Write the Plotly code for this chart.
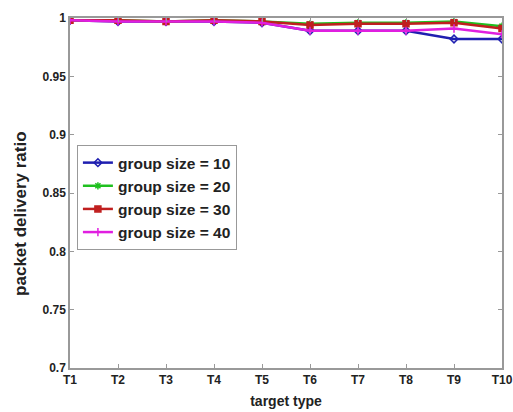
import plotly.graph_objects as go

categories = ["T1", "T2", "T3", "T4", "T5", "T6", "T7", "T8", "T9", "T10"]
g10 = [0.998, 0.997, 0.997, 0.997, 0.996, 0.989, 0.989, 0.989, 0.982, 0.982]
g20 = [0.998, 0.998, 0.997, 0.998, 0.997, 0.995, 0.996, 0.996, 0.997, 0.993]
g30 = [0.998, 0.998, 0.997, 0.998, 0.997, 0.994, 0.995, 0.995, 0.996, 0.991]
g40 = [0.998, 0.997, 0.997, 0.997, 0.996, 0.989, 0.989, 0.989, 0.991, 0.986]
names = ["group size = 10", "group size = 20", "group size = 30", "group size = 40"]
colors = ["#1f1fb0", "#1fc01f", "#c01f1f", "#e01fe0"]
symbols = ["diamond-open", "asterisk-open", "square", "cross-thin-open"]

xs = list(range(1, 11))
fig = go.Figure()
for i, (vals, nm, col, sym) in enumerate(zip([g10, g20, g30, g40], names, colors, symbols)):
    fig.add_trace(go.Scatter(
        x=xs, y=vals, name=nm, mode="lines+markers", legendgroup=f"g{i}",
        line=dict(color=col, width=2.5),
        marker=dict(symbol=sym, size=6, color=col, line=dict(color=col, width=1.5)),
    ))

fam = "Liberation Sans, Arial, sans-serif"
font = dict(family=fam, size=12, color="#222", weight="bold")
fig.update_layout(
    width=513, height=412,
    margin=dict(l=70, r=11, t=18, b=44),
    paper_bgcolor="white", plot_bgcolor="white",
    font=font,
    showlegend=True,
    legend=dict(x=0.016, y=0.637, xanchor="left", yanchor="top",
                bordercolor="#999", borderwidth=1, bgcolor="white",
                font=dict(size=15.5, family=fam, color="#222", weight="bold"),
                tracegroupgap=0),
    xaxis=dict(
        range=[1, 10], tickvals=xs, ticktext=categories, automargin=False,
        showgrid=False, zeroline=False,
        showline=True, linecolor="#999", linewidth=1.5, mirror="ticks",
        ticks="inside", ticklen=4, tickcolor="#999",
        title=dict(text="target type", standoff=10, font=dict(size=14, family=fam, color="#222", weight="bold")),
    ),
    yaxis=dict(
        range=[0.7, 1.0], tickvals=[0.7, 0.75, 0.8, 0.85, 0.9, 0.95, 1.0],
        ticktext=["0.7", "0.75", "0.8", "0.85", "0.9", "0.95", "1"], automargin=False,
        showgrid=False, zeroline=False,
        showline=True, linecolor="#999", linewidth=1.5, mirror="ticks",
        ticks="inside", ticklen=4, tickcolor="#999",
    ),
    annotations=[dict(text="packet delivery ratio", textangle=-90, xref="paper", yref="paper",
                      x=-0.116, y=0.44, xanchor="center", yanchor="middle", showarrow=False,
                      font=dict(size=17, family=fam, color="#222", weight="bold"))],
)
fig.write_html("out.html")
